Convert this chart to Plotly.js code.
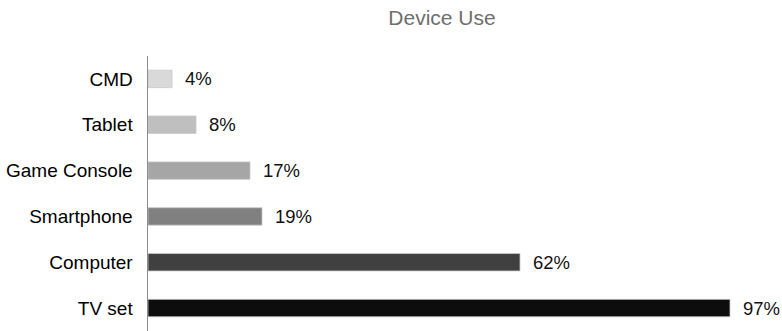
<!DOCTYPE html>
<html>
<head>
<meta charset="utf-8">
<script src="https://cdn.plot.ly/plotly-3.0.1.min.js"></script>
<style>html,body{margin:0;padding:0;background:#fff;}#chart{width:782px;height:331px;}</style>
</head>
<body>
<div id="chart"></div>
<script>
const categories = ["CMD", "Tablet", "Game Console", "Smartphone", "Computer", "TV set"];
const values = [4, 8, 17, 19, 62, 97];
const valueLabels = ["4%", "8%", "17%", "19%", "62%", "97%"];
const barColors = ["#d9d9d9", "#bfbfbf", "#a6a6a6", "#808080", "#404040", "#0d0d0d"];

const trace = {
  type: "bar",
  orientation: "h",
  y: categories,
  x: values,
  width: 0.38,
  marker: {color: barColors, line: {color: "#c8c8c8", width: 0.8}},
  hoverinfo: "none"
};

const annotations = categories.map((c, i) => ({
  x: values[i], y: c, xref: "x", yref: "y",
  text: valueLabels[i], showarrow: false,
  xanchor: "left", yanchor: "middle", xshift: 11,
  font: {family: "Liberation Sans, Arial, sans-serif", size: 18.5, color: "#111"}
}));

const layout = {
  width: 782, height: 331,
  margin: {l: 148, r: 4, t: 56, b: 0},
  paper_bgcolor: "#fff", plot_bgcolor: "#fff",
  showlegend: false,
  title: {
    text: "Device Use",
    font: {family: "Liberation Sans, Arial, sans-serif", size: 21, color: "#6e6e6e"},
    x: 442/782, xref: "container", xanchor: "center",
    y: 1 - 18/331, yref: "container", yanchor: "middle"
  },
  xaxis: {range: [0, 105], visible: false, showgrid: false, zeroline: false, fixedrange: true},
  yaxis: {
    type: "category",
    categoryorder: "array", categoryarray: categories,
    autorange: "reversed",
    showline: true, linecolor: "#8c8c8c", linewidth: 1.5,
    showgrid: false, zeroline: false, ticks: "",
    ticklabelstandoff: 10,
    tickfont: {family: "Liberation Sans, Arial, sans-serif", size: 19, color: "#000"}
  },
  annotations: annotations
};

Plotly.newPlot("chart", [trace], layout, {displayModeBar: false, staticPlot: true});
</script>
</body>
</html>
